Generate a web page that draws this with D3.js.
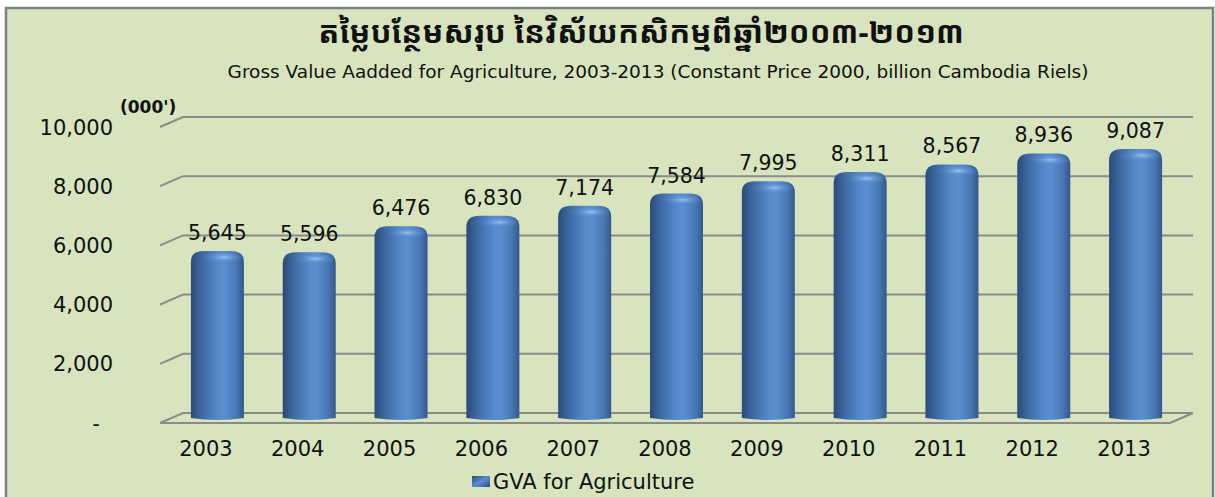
<!DOCTYPE html>
<html>
<head>
<meta charset="utf-8">
<script src="https://cdn.jsdelivr.net/npm/d3@7/dist/d3.min.js"></script>
<style>
  html, body { margin: 0; padding: 0; background: #fff; }
  svg { display: block; }
</style>
</head>
<body>
<div id="chart"></div>
<script>
// chart data
const years = ['2003', '2004', '2005', '2006', '2007', '2008', '2009', '2010', '2011', '2012', '2013'];
const gvaValues = [5645, 5596, 6476, 6830, 7174, 7584, 7995, 8311, 8567, 8936, 9087];
const yTicks = [0, 2000, 4000, 6000, 8000, 10000];
const titleKh = 'តម្លៃបន្ថែមសរុប នៃវិស័យកសិកម្មពីឆ្នាំ២០០៣-២០១៣';
const subtitle = 'Gross Value Aadded for Agriculture, 2003-2013 (Constant Price 2000, billion Cambodia Riels)';
const unitLabel = "(000')";
const legendLabel = 'GVA for Agriculture';

const width = 1215, height = 497;
const fontFamily = '"DejaVu Sans", Verdana, sans-serif';

// 3D depth offset of the walls
const depth = { dx: 23, dy: 10 };
const plot = { left: 160, right: 1170, floorMid: 418, topMid: 122 };

const svg = d3.select('#chart').append('svg')
  .attr('width', width)
  .attr('height', height)
  .attr('viewBox', `0 0 ${width} ${height}`);

const defs = svg.append('defs');

// cylinder shading
const barGrad = defs.append('linearGradient').attr('id', 'barGrad')
  .attr('x1', '0%').attr('x2', '100%').attr('y1', '0%').attr('y2', '0%');
[[0, '#2b4a78'], [0.18, '#3c659f'], [0.5, '#5689cb'], [0.62, '#5b8fd2'], [0.85, '#4a78b6'], [1, '#33588d']]
  .forEach(([o, c]) => barGrad.append('stop').attr('offset', o).attr('stop-color', c));

const capGrad = defs.append('radialGradient').attr('id', 'capGrad')
  .attr('cx', '58%').attr('cy', '45%').attr('r', '55%');
[[0, '#9cc3f2', 0.95], [0.45, '#6a9bd9', 0.5], [1, '#4a7ab9', 0]]
  .forEach(([o, c, op]) => capGrad.append('stop').attr('offset', o).attr('stop-color', c).attr('stop-opacity', op));

const legendGrad = defs.append('linearGradient').attr('id', 'legendGrad')
  .attr('x1', '0%').attr('x2', '100%').attr('y1', '0%').attr('y2', '100%');
[[0, '#2b4a78'], [0.5, '#5b8fd2'], [1, '#2b4a78']]
  .forEach(([o, c]) => legendGrad.append('stop').attr('offset', o).attr('stop-color', c));

// chart area frame
svg.append('rect')
  .attr('x', 6).attr('y', 8)
  .attr('width', 1207).attr('height', 520)
  .attr('fill', '#d7e4bd')
  .attr('stroke', '#808080')
  .attr('stroke-width', 2.5);

// scales (mid depth)
const x = d3.scaleBand()
  .domain(years)
  .range([plot.left + depth.dx / 2, plot.right + depth.dx / 2]);

const y = d3.scaleLinear()
  .domain([0, 10000])
  .range([plot.floorMid, plot.topMid]);

const gGrid = svg.append('g').attr('class', 'grid');
const gAxes = svg.append('g').attr('class', 'axes');
const gBars = svg.append('g').attr('class', 'bars');
const gLabels = svg.append('g').attr('class', 'labels');

const backX0 = plot.left + depth.dx, backX1 = plot.right + depth.dx;
const backY = v => y(v) - depth.dy / 2;
const frontY = v => y(v) + depth.dy / 2;

// back wall gridlines with the side-wall diagonal
yTicks.forEach(v => {
  gGrid.append('path')
    .attr('d', `M${plot.left},${frontY(v)}L${backX0},${backY(v)}L${backX1},${backY(v)}`)
    .attr('fill', 'none')
    .attr('stroke', '#8a8a8a')
    .attr('stroke-width', 2);
});

// floor front edge
gGrid.append('path')
  .attr('d', `M${plot.left},${frontY(0)}L${plot.right},${frontY(0)}L${backX1},${backY(0)}`)
  .attr('fill', 'none')
  .attr('stroke', '#8a8a8a')
  .attr('stroke-width', 2);

// y-axis labels
gAxes.selectAll('text.ytick')
  .data(yTicks)
  .join('text')
  .attr('class', 'ytick')
  .attr('x', d => d === 0 ? 96 : 113)
  .attr('y', d => frontY(d))
  .attr('dy', '0.36em')
  .attr('text-anchor', d => d === 0 ? 'middle' : 'end')
  .style('font-family', fontFamily)
  .style('font-size', '21px')
  .style('fill', '#111')
  .text(d => d === 0 ? '-' : d3.format(',')(d));

gAxes.append('text')
  .attr('x', 120).attr('y', 113)
  .style('font-family', fontFamily)
  .style('font-size', '17px')
  .style('font-weight', 'bold')
  .style('fill', '#111')
  .text(unitLabel);

// x-axis labels (front edge)
gAxes.selectAll('text.xtick')
  .data(years)
  .join('text')
  .attr('class', 'xtick')
  .attr('x', d => x(d) + x.bandwidth() / 2 - depth.dx / 2)
  .attr('y', 448)
  .attr('dy', '0.36em')
  .attr('text-anchor', 'middle')
  .style('font-family', fontFamily)
  .style('font-size', '21px')
  .style('fill', '#111')
  .text(d => d);

// cylinders
const barW = 53, capR = 11;
const data = years.map((yr, i) => ({ year: yr, value: gvaValues[i] }));

const bars = gBars.selectAll('g.bar').data(data).join('g').attr('class', 'bar');

bars.append('path')
  .attr('d', d => {
    const cx = x(d.year) + x.bandwidth() / 2;
    const x0 = cx - barW / 2, x1 = cx + barW / 2;
    const top = y(d.value), bot = y(0);
    return `M${x0},${bot}L${x0},${top + capR}` +
      `Q${x0},${top} ${x0 + capR + 2},${top}` +
      `L${x1 - capR - 2},${top}` +
      `Q${x1},${top} ${x1},${top + capR}` +
      `L${x1},${bot}` +
      `Q${cx},${bot + 4} ${x0},${bot}Z`;
  })
  .attr('fill', 'url(#barGrad)');

bars.append('ellipse')
  .attr('cx', d => x(d.year) + x.bandwidth() / 2 + 3)
  .attr('cy', d => y(d.value) + 7)
  .attr('rx', barW / 2 - 5)
  .attr('ry', 6)
  .attr('fill', 'url(#capGrad)');

// value labels
gLabels.selectAll('text.value')
  .data(data)
  .join('text')
  .attr('class', 'value')
  .attr('x', d => x(d.year) + x.bandwidth() / 2)
  .attr('y', d => y(d.value) - 11)
  .attr('text-anchor', 'middle')
  .style('font-family', fontFamily)
  .style('font-size', '20.5px')
  .style('fill', '#111')
  .text(d => d3.format(',')(d.value));

// titles
svg.append('text')
  .attr('x', 641).attr('y', 43)
  .attr('text-anchor', 'middle')
  .style('font-family', '"Noto Sans Khmer", "Khmer OS", "Noto Sans", sans-serif')
  .style('font-size', '31px')
  .style('font-weight', 'bold')
  .style('fill', '#111')
  .text(titleKh);

svg.append('text')
  .attr('x', 658).attr('y', 78)
  .attr('text-anchor', 'middle')
  .style('font-family', fontFamily)
  .style('font-size', '18.5px')
  .style('fill', '#111')
  .text(subtitle);

// legend
const legend = svg.append('g').attr('transform', 'translate(472,476)');
legend.append('rect')
  .attr('width', 18).attr('height', 11)
  .attr('fill', 'url(#legendGrad)');
legend.append('text')
  .attr('x', 21).attr('y', 5.5)
  .attr('dy', '0.36em')
  .style('font-family', fontFamily)
  .style('font-size', '21px')
  .style('fill', '#111')
  .text(legendLabel);
</script>
</body>
</html>
